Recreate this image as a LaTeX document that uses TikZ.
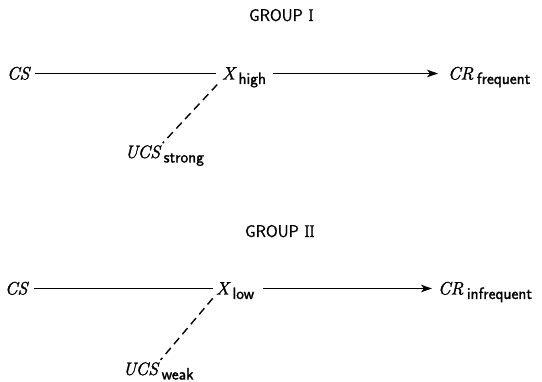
\documentclass[tikz,border=0pt]{standalone}
\usepackage{fontspec}
\usetikzlibrary{arrows.meta,calc}
% a slightly heavier italic for the stimulus/response letters
\newfontfamily\termfont{Latin Modern Roman}[FakeBold=1.6]
\newfontfamily\headfont{Latin Modern Sans}[FakeBold=0.8]
\newfontfamily\subfont{Latin Modern Sans}[FakeBold=1.4]
\newfontfamily\serifnum{Latin Modern Roman}[FakeBold=0.8]
% subscript set in a small sans face, dropped below the baseline
\newcommand{\subtxt}[2][4.5pt]{\hspace{3.5pt}\raisebox{-#1}{\fontsize{16.5}{16.5}\subfont\upshape #2}}
\begin{document}
\begin{tikzpicture}[x=1pt,y=-1pt,
  every node/.style={inner sep=0pt, outer sep=0pt},
  term/.style={anchor=base west, text height=12pt, text depth=0pt,
               font=\fontsize{18}{18}\termfont\itshape},
  grouptitle/.style={anchor=base west, font=\fontsize{17}{17}\headfont},
  link/.style={line width=1.4pt},
  pointer/.style={link, -{Stealth[length=11pt,width=7.5pt,inset=3pt]}},
  assoc/.style={line width=1.4pt, dash pattern=on 8pt off 5pt}]
\useasboundingbox (0,0) rectangle (542,382);

% ---- Group I ----
\node[grouptitle] (t1) at (249,21) {GROUP {\serifnum I}};
\node[term] (cs1)  at (7,79.5)   {CS};
\node[term] (x1)   at (222,79.5) {X\subtxt{high}};
\node[term] (cr1)  at (448,79.5) {CR\subtxt{frequent}};
\node[term] (ucs1) at (125,158)  {UCS\subtxt{strong}};

\draw[link, shorten <=5pt, shorten >=6pt] (cs1) -- (x1);
\draw[pointer, shorten <=7pt, shorten >=10pt] (x1) -- (cr1);
\draw[assoc, shorten <=7pt, shorten >=4pt] (x1.south west) -- ($(ucs1.north west)+(35,0)$);

% ---- Group II ----
\node[grouptitle] (t2) at (245,237) {GROUP {\serifnum I\kern-0.6ptI}};
\node[term] (cs2)  at (5,294.5)   {CS};
\node[term] (x2)   at (216,294.5) {X\subtxt{low}};
\node[term] (cr2)  at (438,294.5) {CR\subtxt{infrequent}};
\node[term] (ucs2) at (123,375)   {UCS\subtxt{weak}};

\draw[link, shorten <=6pt, shorten >=3pt] (cs2) -- (x2);
\draw[pointer, shorten <=9pt, shorten >=6pt] (x2) -- (cr2);
\draw[assoc, shorten <=5pt, shorten >=4pt] (x2.south west) -- ($(ucs2.north west)+(35,0)$);
\end{tikzpicture}
\end{document}
